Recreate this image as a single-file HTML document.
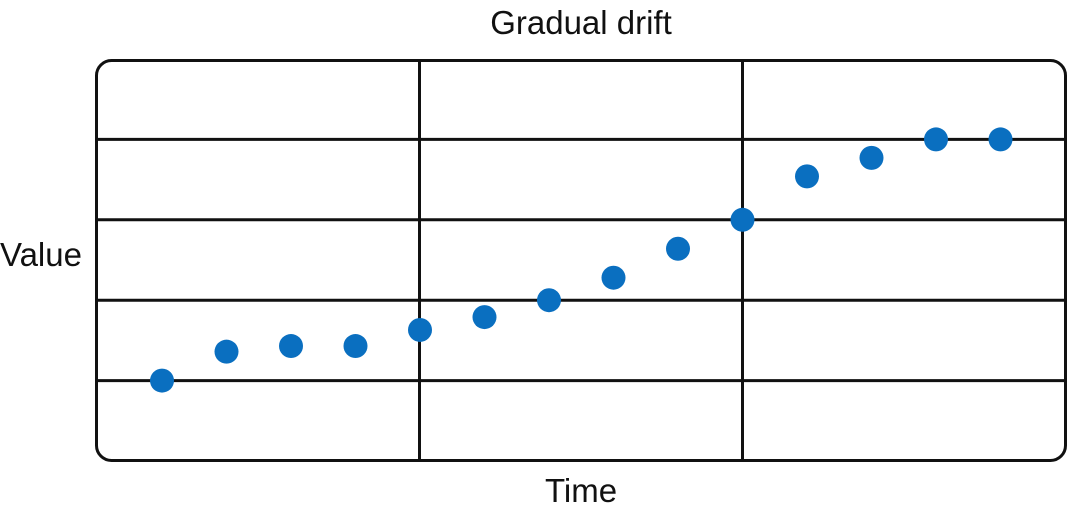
<!DOCTYPE html>
<html><head><meta charset="utf-8"><style>
html,body{margin:0;padding:0;background:#fff;}
svg{display:block;}
text{font-family:"Liberation Sans Narrow","Liberation Sans",sans-serif;fill:#111;}
</style></head><body>
<svg id="chart" width="1069" height="513" viewBox="0 0 1069 513">
<text x="581" y="34" font-size="33" text-anchor="middle">Gradual drift</text>
<text x="41" y="266" font-size="33" text-anchor="middle">Value</text>
<text x="581" y="502" font-size="33" text-anchor="middle">Time</text>
<g id="grid"></g>
<rect x="96.5" y="60.5" width="969" height="400" rx="15" fill="none" stroke="#111" stroke-width="3"/>
<g id="points"></g>
</svg>
<script>
const timeIndex=[0,1,2,3,4,5,6,7,8,9,10,11,12,13];
const values=[1.0,1.36,1.43,1.43,1.63,1.79,2.0,2.28,2.64,3.0,3.54,3.77,4.0,4.0];
const yGridValues=[1,2,3,4];
const xGridValues=[4,9];
const NS='http://www.w3.org/2000/svg';
const xScale=i=>162+64.5*i;
const yScale=v=>461-80.4*v;
const grid=document.getElementById('grid');
yGridValues.forEach(v=>{
 const l=document.createElementNS(NS,'line');
 l.setAttribute('x1',96);l.setAttribute('x2',1066);
 l.setAttribute('y1',yScale(v));l.setAttribute('y2',yScale(v));
 l.setAttribute('stroke','#111');l.setAttribute('stroke-width',3);
 
 
 grid.appendChild(l);
});
xGridValues.forEach(v=>{
 const l=document.createElementNS(NS,'line');
 const x=xScale(v)-0.5*(v===4?1:0);
 l.setAttribute('x1',x);l.setAttribute('x2',x);
 l.setAttribute('y1',60);l.setAttribute('y2',461);
 l.setAttribute('stroke','#111');l.setAttribute('stroke-width',3);
 
 
 grid.appendChild(l);
});
const pts=document.getElementById('points');
timeIndex.forEach((t,i)=>{
 const c=document.createElementNS(NS,'circle');
 c.setAttribute('cx',xScale(t));c.setAttribute('cy',yScale(values[i]));
 c.setAttribute('r',12);c.setAttribute('fill','#0a6fc0');
 
 
 pts.appendChild(c);
});
</script>
</body></html>
